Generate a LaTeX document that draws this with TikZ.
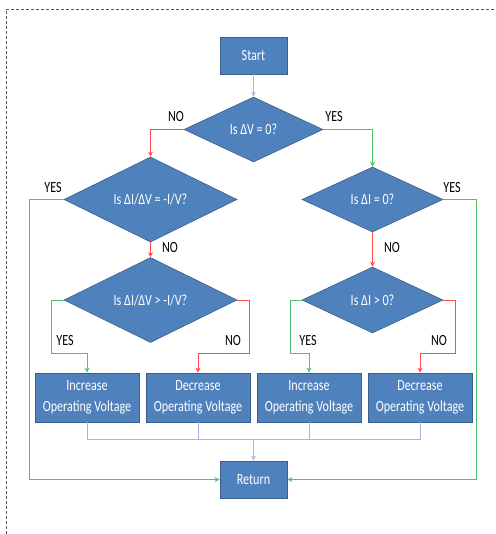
\documentclass[tikz,border=0pt]{standalone}
\usepackage{fontspec}
\setmainfont{Carlito}
\newfontfamily\tallfont[FakeStretch=0.78]{Carlito}
\usetikzlibrary{shapes.geometric,arrows.meta}
\definecolor{boxfill}{HTML}{4F81BD}
\definecolor{boxedge}{HTML}{3A5F8B}
\definecolor{nored}{HTML}{FF4B4B}
\definecolor{yesgreen}{HTML}{4CC46C}
\definecolor{flowblue}{HTML}{9DB9E4}
\begin{document}
\begin{tikzpicture}[x=1pt,y=1pt,
  font=\tallfont\fontsize{15.5}{21}\selectfont,
  every node/.style={inner sep=0pt},
  procbox/.style={rectangle,draw=boxedge,fill=boxfill,text=white,line width=0.8pt,
    minimum width=104pt,minimum height=49pt,align=center,
    font=\tallfont\fontsize{15.5}{21}\selectfont},
  termbox/.style={procbox,minimum width=67pt,minimum height=37pt},
  decision/.style={diamond,aspect=1,draw=boxedge,fill=boxfill,text=white,line width=0.6pt,
    minimum height=65pt},
  lbl/.style={text=black,font=\tallfont\fontsize{15.5}{18}\selectfont},
  tip/.style={-{Stealth[length=5pt,width=5pt]}},
  nowire/.style={draw=nored,line width=0.9pt},
  yeswire/.style={draw=yesgreen,line width=0.9pt},
  flowwire/.style={draw=flowblue,line width=0.9pt}]
\useasboundingbox (0,0) rectangle (495,-534);
% frame
\draw[gray!70!black,densely dashed,line width=0.5pt] (6,-534) -- (6,-9) -- (495,-9);

% nodes
\node[termbox] (start) at (253.5,-55.5) {Start};
\node[decision,minimum width=139pt] (d1) at (253.5,-129.5) {Is ΔV = 0?};
\node[decision,minimum width=173pt] (d2) at (150.5,-199.5) {Is ΔI/ΔV = -I/V?};
\node[decision,minimum width=141pt] (d3) at (372.5,-199.5) {Is ΔI = 0?};
\node[decision,minimum width=173pt,minimum height=66pt] (d4) at (150.5,-300) {Is ΔI/ΔV > -I/V?};
\node[decision,minimum width=141pt,minimum height=66pt] (d5) at (372.5,-300) {Is ΔI > 0?};
\node[procbox] (b1) at (87,-397.5) {Increase\\Operating Voltage};
\node[procbox] (b2) at (198,-397.5) {Decrease\\Operating Voltage};
\node[procbox] (b3) at (309,-397.5) {Increase\\Operating Voltage};
\node[procbox] (b4) at (420,-397.5) {Decrease\\Operating Voltage};
\node[termbox] (ret) at (253.5,-479.5) {Return};

% helper coordinates
\coordinate (cl) at (29,-199.5);
\coordinate (cr) at (476,-199.5);
\coordinate (j1) at (51,-353);
\coordinate (j2) at (249,-353);
\coordinate (j3) at (290,-353);
\coordinate (j4) at (455,-353);
\coordinate (bus) at (253.5,-439);

% connectors
\draw[flowwire,tip] (start) -- (d1);
\draw[nowire,tip] (d1.west) -| (d2.north);
\draw[yeswire,tip] (d1.east) -| (d3.north);
\draw[yeswire,tip] (d2.west) -- (cl) |- (ret.west);
\draw[yeswire,tip] (d3.east) -- (cr) |- (ret.east);
\draw[nowire,tip] (d2.south) -- (d4.north);
\draw[nowire,tip] (d3.south) -- (d5.north);
\draw[yeswire,tip] (d4.west) -| (j1) -| (b1.north);
\draw[nowire,tip] (d4.east) -| (j2) -| (b2.north);
\draw[yeswire,tip] (d5.west) -| (j3) -| (b3.north);
\draw[nowire,tip] (d5.east) -| (j4) -| (b4.north);
\draw[flowwire] (b1.south) |- (bus);
\draw[flowwire] (b4.south) |- (bus);
\draw[flowwire] (b2.south) -- (b2.south |- bus);
\draw[flowwire] (b3.south) -- (b3.south |- bus);
\draw[flowwire,tip] (bus) -- (ret.north);

% labels
\node[lbl] (lno1) at (176,-117) {NO};
\node[lbl] (lyes1) at (334,-117) {YES};
\node[lbl] (lyes2) at (53,-188) {YES};
\node[lbl] (lyes3) at (452,-188) {YES};
\node[lbl] (lno2) at (170,-248) {NO};
\node[lbl] (lno3) at (392,-248) {NO};
\node[lbl] (lyes4) at (65,-341) {YES};
\node[lbl] (lno4) at (233,-341) {NO};
\node[lbl] (lyes5) at (308,-341) {YES};
\node[lbl] (lno5) at (439,-341) {NO};
\end{tikzpicture}
\end{document}
